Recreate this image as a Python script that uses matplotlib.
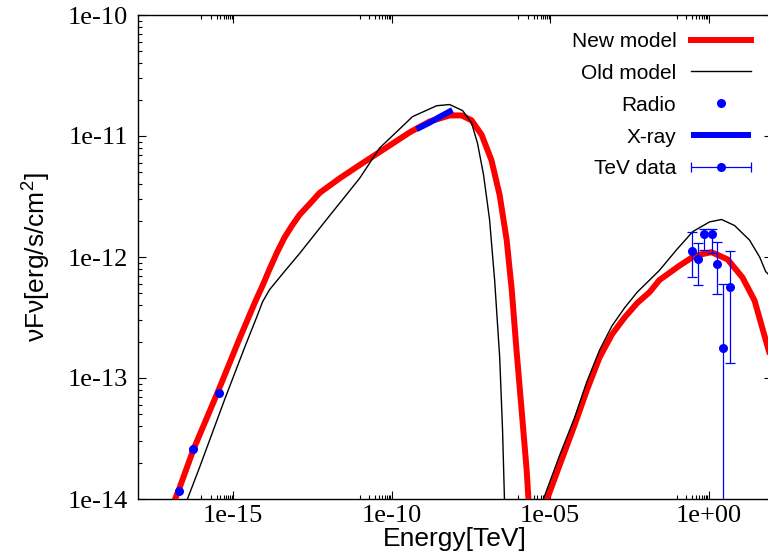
import numpy as np
import matplotlib
matplotlib.use("Agg")
import matplotlib.pyplot as plt
from matplotlib.legend_handler import HandlerErrorbar
from matplotlib.container import ErrorbarContainer

# --- data (log10 values) ---
# new model, synchrotron bump
new_sync_logE = [-16.97, -16.72, -16.25, -15.49, -14.79, -14.32, -14.06, -13.85, -13.61, -13.38,
                 -13.14, -12.90, -12.58, -12.27, -11.64, -11.01, -10.19, -9.43, -8.80, -8.17,
                 -7.79, -7.48, -7.16, -6.85, -6.59, -6.37, -6.21, -6.06, -5.90, -5.74, -5.66]
new_sync_logF = [-14.09, -13.93, -13.59, -13.12, -12.67, -12.38, -12.23, -12.10, -11.96, -11.84,
                 -11.74, -11.65, -11.56, -11.47, -11.35, -11.24, -11.10, -10.97, -10.88, -10.83,
                 -10.83, -10.87, -10.99, -11.20, -11.49, -11.86, -12.27, -12.77, -13.26, -13.76, -14.10]
# new model, inverse Compton bump
new_ic_logE = [-5.33, -5.08, -4.70, -4.23, -3.84, -3.44, -3.05, -2.65, -2.25, -1.86, -1.55,
               -1.23, -0.91, -0.44, 0.09, 0.60, 1.07, 1.45, 1.86, 2.10]
new_ic_logF = [-14.17, -13.99, -13.72, -13.39, -13.10, -12.83, -12.64, -12.50, -12.38, -12.29, -12.19,
               -12.13, -12.07, -11.99, -11.96, -12.02, -12.17, -12.36, -12.74, -12.95]
# old model
old_sync_logE = [-16.53, -16.44, -16.06, -15.27, -14.64, -14.26, -14.07, -13.85, -13.38, -12.90,
                 -11.96, -11.01, -10.38, -9.34, -8.58, -8.17, -7.76, -7.48, -7.29, -7.10,
                 -6.91, -6.75, -6.59, -6.50, -6.44, -6.40]
old_sync_logF = [-14.09, -14.00, -13.74, -13.18, -12.75, -12.50, -12.37, -12.27, -12.12, -11.97,
                 -11.66, -11.35, -11.10, -10.84, -10.75, -10.74, -10.79, -10.89, -11.06, -11.32,
                 -11.69, -12.19, -12.83, -13.43, -14.00, -14.17]
old_ic_logE = [-5.30, -5.21, -4.70, -4.23, -3.84, -3.44, -3.05, -2.65, -2.25, -1.86, -1.55,
               -1.01, -0.50, 0.03, 0.41, 0.82, 1.29, 1.61, 1.80, 2.10]
old_ic_logF = [-14.08, -14.00, -13.64, -13.33, -13.03, -12.77, -12.57, -12.42, -12.29, -12.19, -12.11,
               -11.94, -11.79, -11.71, -11.69, -11.74, -11.86, -12.00, -12.12, -12.20]

# observations
radio_E = [1.9e-17, 5.6e-17, 3.5e-16]
radio_F = [1.16e-14, 2.59e-14, 7.5e-14]
xray_E = [6.2e-10, 8.0e-10, 1.5e-9, 3.0e-9, 8.3e-9]
xray_F = [1.14e-11, 1.18e-11, 1.28e-11, 1.42e-11, 1.64e-11]
tev_E = [0.29, 0.45, 0.70, 1.24, 1.79, 2.77, 4.6]
tev_F = [1.12e-12, 9.6e-13, 1.55e-12, 1.55e-12, 8.75e-13, 1.78e-13, 5.65e-13]
tev_lo = [6.8e-13, 5.9e-13, 1.15e-12, 1.08e-12, 4.94e-13, 1e-16, 1.33e-13]
tev_hi = [1.62e-12, 1.31e-12, 1.70e-12, 1.70e-12, 1.33e-12, 5.98e-13, 1.12e-12]

plt.rcParams['font.family'] = ['Liberation Sans', 'DejaVu Sans']

fig = plt.figure(figsize=(7.68, 5.56), dpi=100)
ax = fig.add_axes([138 / 768, 57 / 556, 634 / 768, 484 / 556])

red = '#ff0000'
blue = '#0000ff'
ax.plot(10 ** np.array(new_sync_logE), 10 ** np.array(new_sync_logF), color=red, lw=4.3,
        label='New model', zorder=3)
ax.plot(10 ** np.array(new_ic_logE), 10 ** np.array(new_ic_logF), color=red, lw=4.3, zorder=3)
ax.plot(10 ** np.array(old_sync_logE), 10 ** np.array(old_sync_logF), color='black', lw=1.0,
        label='Old model', zorder=4)
ax.plot(10 ** np.array(old_ic_logE), 10 ** np.array(old_ic_logF), color='black', lw=1.0, zorder=4)
ax.plot(radio_E, radio_F, 'o', color=blue, ms=6.5, mec='none', label='Radio', zorder=5)
ax.plot(xray_E, xray_F, color=blue, lw=4.3, label='X-ray', zorder=5, solid_capstyle='butt')

tev_F_arr = np.array(tev_F)
yerr = [tev_F_arr - np.array(tev_lo), np.array(tev_hi) - tev_F_arr]
ax.errorbar(tev_E, tev_F, yerr=yerr, fmt='o', color=blue, ms=6.5, mec='none', elinewidth=0.9,
            capsize=3.5, capthick=0.9, zorder=5)
# legend proxy with horizontal bar, like the reference
proxy = ax.errorbar([np.nan], [np.nan], xerr=[1.0], fmt='o', color=blue, ms=6.5, mec='none',
                    elinewidth=0.9, capsize=3.5, capthick=0.9, label='TeV data')

ax.set_xscale('log')
ax.set_yscale('log')
ax.set_xlim(1e-18, 1e2)
ax.set_ylim(1e-14, 1e-10)

xmaj = [1e-15, 1e-10, 1e-5, 1e0]
ax.set_xticks(xmaj)
ax.set_xticklabels(['1e-15', '1e-10', '1e-05', '1e+00'])
ax.set_xticks([m / 10 * k for m in xmaj for k in range(1, 10)], minor=True)
ax.xaxis.set_minor_formatter(matplotlib.ticker.NullFormatter())
ymaj = [1e-14, 1e-13, 1e-12, 1e-11, 1e-10]
ax.set_yticks(ymaj)
ax.set_yticklabels(['1e-14', '1e-13', '1e-12', '1e-11', '1e-10'])
ax.set_yticks([m * k for m in ymaj[:-1] for k in range(2, 10)], minor=True)
ax.yaxis.set_minor_formatter(matplotlib.ticker.NullFormatter())

ax.tick_params(which='both', direction='in', top=True, right=True, width=0.8)
ax.tick_params(which='major', length=5.5)
ax.tick_params(which='minor', length=3)
ax.tick_params(axis='x', which='major', pad=4)
ax.tick_params(axis='y', which='major', pad=7.5)
for lab in ax.get_xticklabels() + ax.get_yticklabels():
    lab.set_family('Liberation Serif')
    lab.set_fontsize(19)
for s in ax.spines.values():
    s.set_linewidth(1.0)

ax.set_xlabel('Energy[TeV]', fontsize=19, labelpad=0)
ax.set_ylabel(r'νFν[erg/s/cm$\mathregular{^2}$]', fontsize=19, labelpad=10)

leg = ax.legend(loc='upper right', bbox_to_anchor=(0.997, 1.004), frameon=False, markerfirst=False,
                fontsize=15, handlelength=2.9, labelspacing=0.62, handletextpad=0.7,
                handler_map={ErrorbarContainer: HandlerErrorbar(xerr_size=1.45)})
for t in leg.get_texts():
    t.set_ha('right')

fig.savefig('out.png', dpi=100)
